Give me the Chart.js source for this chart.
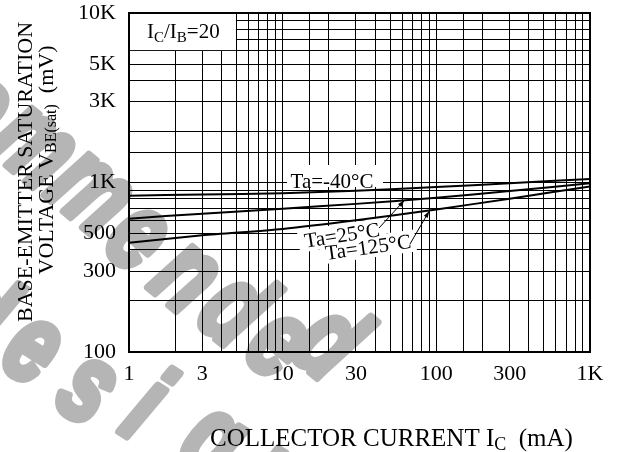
<!DOCTYPE html>
<html>
<head>
<meta charset="utf-8">
<script src="https://cdn.jsdelivr.net/npm/chart.js@4"></script>
<style>
  html, body { margin: 0; padding: 0; background: #fff; }
</style>
</head>
<body>
<canvas id="myChart" width="617" height="452"></canvas>
<script>
// collector current (mA) and VBE(sat) (mV)
const current = [1, 3, 10, 30, 100, 300, 1000];
const vbeMinus40 = [835, 850, 865, 895, 940, 990, 1050];
const vbe25 = [612, 655, 700, 748, 813, 890, 990];
const vbe125 = [441, 488, 532, 598, 693, 803, 947];

const xTickVals = [1, 3, 10, 30, 100, 300, 1000];
const xTickText = ['1', '3', '10', '30', '100', '300', '1K'];
const yTickVals = [100, 300, 500, 1000, 3000, 5000, 10000];
const yTickText = ['100', '300', '500', '1K', '3K', '5K', '10K'];

const serif = '"Liberation Serif", "Times New Roman", serif';

function pickLabel(v, vals, texts) {
  for (let i = 0; i < vals.length; i++) {
    if (Math.abs(v - vals[i]) < vals[i] * 1e-6) return texts[i];
  }
  return '';
}

function pts(vals) {
  return current.map((c, i) => ({ x: c, y: vals[i] }));
}

// grey watermark letters behind the chart
const watermark = {
  id: 'watermark',
  beforeDraw(chart) {
    const ctx = chart.ctx;
    const glyphs = [
      ['o', -22, 108, 40], ['m', 33, 147, 40], ['m', 90, 193, 40], ['e', 137, 238, 40],
      ['n', 185, 278, 40], ['d', 232, 312, 40], ['e', 277, 345, 40],
      ['d', 326, 345, 40],
      ['d', -22, 318, 32], ['e', 32, 350, 32], ['s', 87, 390, 32],
      ['i', 143, 410, 32], ['g', 212, 443, 32], ['n', 275, 480, 32]
    ];
    ctx.save();
    ctx.fillStyle = '#b5b5b5';
    ctx.strokeStyle = '#b5b5b5';
    ctx.lineWidth = 8;
    ctx.lineJoin = 'round';
    ctx.textAlign = 'center';
    ctx.textBaseline = 'middle';
    ctx.font = 'italic bold 112px "Liberation Sans", Arial, sans-serif';
    glyphs.forEach(([ch, gx, gy, ang]) => {
      ctx.save();
      ctx.translate(gx, gy);
      ctx.rotate(ang * Math.PI / 180);
      ctx.scale(0.72, 1);
      ctx.fillText(ch, 0, 0);
      ctx.strokeText(ch, 0, 0);
      ctx.restore();
    });
    ctx.restore();
  }
};

function subText(ctx, parts, x, y) {
  // parts: [text, size, dy]
  let cx = x;
  parts.forEach(([t, size, dy]) => {
    ctx.font = size + 'px ' + serif;
    ctx.fillText(t, cx, y + dy);
    cx += ctx.measureText(t).width;
  });
  return cx;
}

function partsWidth(ctx, parts) {
  let w = 0;
  parts.forEach(([t, size]) => {
    ctx.font = size + 'px ' + serif;
    w += ctx.measureText(t).width;
  });
  return w;
}

function arrow(ctx, x1, y1, x2, y2) {
  ctx.beginPath();
  ctx.moveTo(x1, y1);
  ctx.lineTo(x2, y2);
  ctx.stroke();
  const a = Math.atan2(y2 - y1, x2 - x1);
  ctx.beginPath();
  ctx.moveTo(x2, y2);
  ctx.lineTo(x2 - 7 * Math.cos(a) + 2.2 * Math.sin(a), y2 - 7 * Math.sin(a) - 2.2 * Math.cos(a));
  ctx.lineTo(x2 - 7 * Math.cos(a) - 2.2 * Math.sin(a), y2 - 7 * Math.sin(a) + 2.2 * Math.cos(a));
  ctx.closePath();
  ctx.fill();
}

const notes = {
  id: 'notes',
  beforeDatasetsDraw(chart) {
    const { ctx, chartArea: a, scales: { x, y } } = chart;
    ctx.save();
    ctx.fillStyle = '#fff';
    ctx.fillRect(a.left + 1, a.top + 1, x.getPixelForValue(5) - a.left - 1.5, y.getPixelForValue(6000) - a.top - 1.5);
    ctx.fillRect(287, 165, 96, 22);
    [[342, 235, -9, 80], [368, 247, -8, 88]].forEach(([cx, cy, ang, w]) => {
      ctx.save();
      ctx.translate(cx, cy);
      ctx.rotate(ang * Math.PI / 180);
      ctx.fillRect(-w / 2 - 4, -11, w + 8, 22);
      ctx.restore();
    });
    ctx.restore();
  },
  afterDatasetsDraw(chart) {
    const { ctx, chartArea: a, scales: { x, y } } = chart;
    ctx.save();
    ctx.fillStyle = '#000';
    ctx.strokeStyle = '#000';

    // IC/IB=20
    ctx.textAlign = 'left';
    ctx.textBaseline = 'alphabetic';
    subText(ctx, [['I', 21, 0], ['C', 15, 4], ['/I', 21, 0], ['B', 15, 4], ['=20', 21, 0]], 147, 38);

    ctx.font = '21px ' + serif;
    ctx.textAlign = 'center';
    ctx.fillText('Ta=-40\u00b0C', 332, 188);

    ctx.save();
    ctx.translate(342, 235);
    ctx.rotate(-9 * Math.PI / 180);
    ctx.fillText('Ta=25\u00b0C', 0, 7);
    ctx.restore();

    ctx.save();
    ctx.translate(368, 247);
    ctx.rotate(-8 * Math.PI / 180);
    ctx.fillText('Ta=125\u00b0C', 0, 7);
    ctx.restore();

    ctx.lineWidth = 1;
    arrow(ctx, 379, 228, x.getPixelForValue(62), y.getPixelForValue(785));
    arrow(ctx, 410, 244, x.getPixelForValue(90), y.getPixelForValue(680));

    // plot frame
    ctx.lineWidth = 2;
    ctx.strokeRect(a.left, a.top, a.right - a.left, a.bottom - a.top);
    ctx.restore();
  },
  afterDraw(chart) {
    const ctx = chart.ctx;
    ctx.save();
    ctx.fillStyle = '#000';
    ctx.textAlign = 'left';
    ctx.textBaseline = 'alphabetic';
    // x title
    subText(ctx, [['COLLECTOR CURRENT I', 25, 0], ['C', 18, 4], ['  (mA)', 25, 0]], 210, 446);

    // y title, two rotated lines
    const line1 = [['BASE-EMITTER SATURATION', 22, 0]];
    const line2 = [['VOLTAGE V', 22, 0], ['BE(sat)', 16, 3], ['  (mV)', 22, 0]];
    ctx.save();
    ctx.translate(32, 172);
    ctx.rotate(-Math.PI / 2);
    subText(ctx, line1, -partsWidth(ctx, line1) / 2, 0);
    ctx.restore();
    ctx.save();
    ctx.translate(53, 160);
    ctx.rotate(-Math.PI / 2);
    subText(ctx, line2, -partsWidth(ctx, line2) / 2, 0);
    ctx.restore();
    ctx.restore();
  }
};

const lineStyle = {
  borderColor: '#000',
  borderWidth: 2,
  pointRadius: 0,
  fill: false,
  tension: 0.25
};

const data = {
  datasets: [
    { label: 'Ta=-40°C', data: pts(vbeMinus40), ...lineStyle },
    { label: 'Ta=25°C', data: pts(vbe25), ...lineStyle },
    { label: 'Ta=125°C', data: pts(vbe125), ...lineStyle }
  ]
};

const config = {
  type: 'line',
  data: data,
  options: {
    responsive: false,
    animation: false,
    devicePixelRatio: 1,
    layout: { padding: { left: 0, top: 13, right: 27, bottom: 0 } },
    plugins: { legend: { display: false }, tooltip: { enabled: false } },
    scales: {
      x: {
        type: 'logarithmic',
        min: 1,
        max: 1000,
        grid: { color: '#000', lineWidth: 1, drawTicks: false },
        border: { display: false },
        ticks: {
          autoSkip: false,
          maxRotation: 0,
          padding: 9,
          color: '#000',
          font: { family: serif, size: 22 },
          callback: (v) => pickLabel(v, xTickVals, xTickText)
        },
        afterFit: (s) => { s.height = 100; s.paddingLeft = 0; s.paddingRight = 0; }
      },
      y: {
        type: 'logarithmic',
        min: 100,
        max: 10000,
        grid: { color: '#000', lineWidth: 1, drawTicks: false },
        border: { display: false },
        ticks: {
          autoSkip: false,
          padding: 13,
          color: '#000',
          font: { family: serif, size: 22 },
          callback: (v) => pickLabel(v, yTickVals, yTickText)
        },
        afterFit: (s) => { s.width = 129; s.paddingTop = 0; s.paddingBottom = 0; }
      }
    }
  },
  plugins: [watermark, notes]
};

const myChart = new Chart(document.getElementById('myChart'), config);
</script>
</body>
</html>
